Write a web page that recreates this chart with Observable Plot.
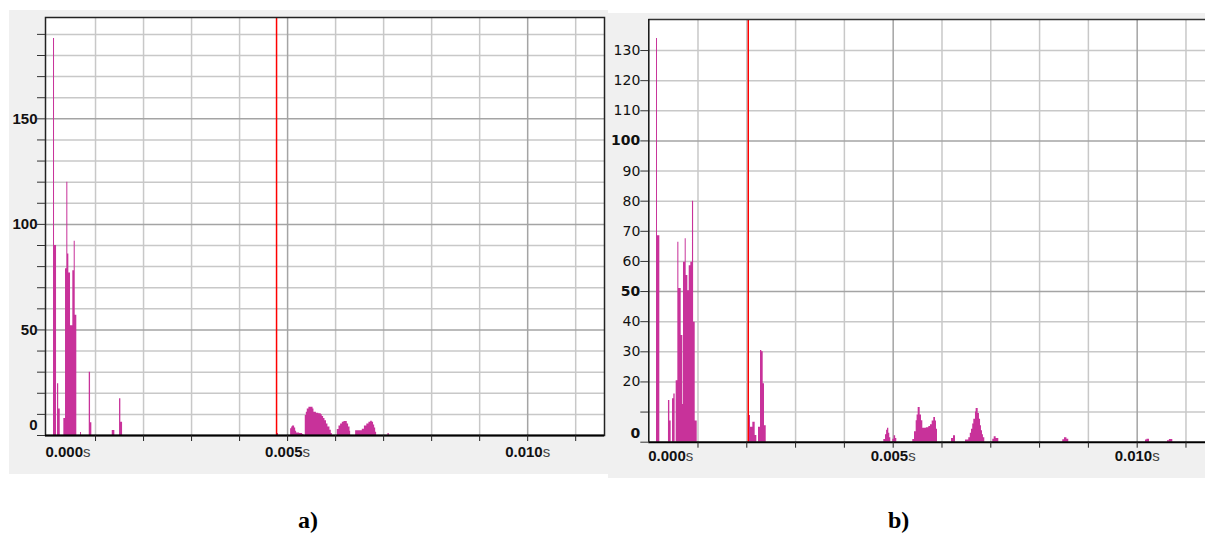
<!DOCTYPE html>
<html><head><meta charset="utf-8">
<script src="https://cdn.jsdelivr.net/npm/d3@7"></script>
<script src="https://cdn.jsdelivr.net/npm/@observablehq/plot@0.6"></script>
<style>
html,body{margin:0;padding:0;background:#fff;}
#wrap{position:relative;width:1205px;height:538px;overflow:hidden;}
#left{position:absolute;left:9px;top:10px;}
#right{position:absolute;left:608px;top:13px;}
.cap{position:absolute;top:508px;font:bold 24px "Liberation Serif","Times New Roman",serif;line-height:24px;color:#000;}
</style></head><body>
<div id="wrap"><div id="left"></div><div id="right"></div>
<div class="cap" style="left:298px">a)</div><div class="cap" style="left:888px">b)</div></div>
<script>
// ---- data (time in ms, amplitude) : step breakpoints ----
const leftTimes = [
  0.125, 0.146, 0.188, 0.208, 0.233, 0.265,
  0.340, 0.375, 0.402, 0.423, 0.444, 0.479, 0.527, 0.556, 0.577, 0.610,
  0.688, 0.708, 0.869, 0.896, 0.923,
  1.348, 1.402, 1.500, 1.527, 1.563,
  4.785, 4.810,
  5.063, 5.085, 5.104, 5.146, 5.168, 5.188, 5.250, 5.313, 5.340,
  5.368, 5.390, 5.410, 5.444, 5.500, 5.530, 5.549, 5.600, 5.650, 5.700, 5.722, 5.750, 5.778, 5.810, 5.840, 5.882, 5.910, 5.931,
  6.035, 6.070, 6.104, 6.140, 6.174, 6.243, 6.270, 6.300, 6.313,
  6.417, 6.556, 6.600, 6.650, 6.694, 6.730, 6.764, 6.790, 6.813, 6.834, 6.854,
  7.090, 7.118];
const leftValues = [
  188, 90, 0, 24.5, 12.5, 0,
  8, 79, 120, 86, 77, 52, 78, 92, 57, 0,
  1.4, 0, 30, 6, 0,
  2.4, 0, 17.4, 6.3, 0,
  1, 0,
  3.2, 4.0, 4.5, 3.5, 2.0, 1.2, 1.0, 0.5, 0,
  9.5, 11, 12.5, 13.4, 13.4, 12.5, 11, 10.5, 10.3, 9.8, 9.0, 8, 7, 5.5, 4, 2.5, 1, 0,
  2.9, 4.5, 5.5, 6.3, 6.6, 5.5, 4, 2, 0,
  2.2, 3.0, 4.5, 5.5, 6.3, 6.8, 6.3, 5.0, 3.5, 1.5, 0,
  1, 0];
const rightTimes = [
  0.150, 0.170, 0.218,
  0.395, 0.423, 0.450, 0.478, 0.505, 0.532,
  0.553, 0.587, 0.608, 0.656, 0.690, 0.703, 0.738, 0.758, 0.792, 0.820, 0.853, 0.887, 0.910, 0.943, 0.984,
  2.049, 2.076, 2.124, 2.172, 2.206, 2.240, 2.281, 2.308, 2.336, 2.363, 2.398,
  4.808, 4.842, 4.865, 4.883, 4.910, 4.930, 4.951, 4.992, 5.020, 5.050, 5.074,
  5.402, 5.437, 5.471, 5.490, 5.512, 5.553, 5.580, 5.607, 5.680, 5.730, 5.764, 5.799, 5.832, 5.867, 5.887, 5.908,
  6.195, 6.236, 6.277,
  6.482, 6.549, 6.580, 6.605, 6.630, 6.652, 6.686, 6.700, 6.742, 6.768, 6.790, 6.809, 6.830, 6.850, 6.877,
  7.041, 7.070, 7.110, 7.164,
  8.475, 8.510, 8.560, 8.598,
  10.170, 10.200, 10.252,
  10.621, 10.660, 10.730];
const rightValues = [
  134, 68.5, 0,
  13.8, 7, 0, 14.4, 16, 0,
  20.4, 66.4, 51, 35.4, 12.5, 59.7, 67.5, 55.3, 50.3, 58.6, 59.7, 80, 39.8, 7, 0,
  8.9, 5, 6.6, 2.2, 0, 5, 30.4, 30, 19.4, 5.5, 0,
  0.9, 2.5, 4, 4.6, 3, 1.5, 0, 1, 2.1, 1.2, 0,
  0.9, 3.5, 7.1, 9, 11.5, 9, 7.1, 4.6, 4.8, 5.2, 5.8, 7, 8.2, 7, 4.3, 0,
  1.2, 2.1, 0,
  0.7, 1.5, 3, 4.3, 6, 7.6, 10, 11.2, 9.5, 7.6, 5.5, 3.8, 2.5, 1.5, 0,
  1, 1.8, 1.2, 0,
  0.8, 1.5, 1.0, 0,
  0.7, 1, 0,
  0.5, 0.9, 0];
const leftCursor = 4.77;   // ms
const rightCursor = 2.03;  // ms
const xTickLabels = [0, 5, 10];           // ms
const xTicks = [1,2,3,4,5,6,7,8,9,10,11]; // ms
const xMajor = [5, 10];
const leftYLabels = [50, 100, 150];
const leftYTicks = [0,10,20,30,40,50,60,70,80,90,100,110,120,130,140,150,160,170,180,190];
const leftYMajor = [50, 100, 150];
const rightYBold = [50, 100];
const rightYRegular = [20,30,40,60,70,80,90,110,120,130];
const rightYTicks = [0,10,20,30,40,50,60,70,80,90,100,110,120,130];
const rightYMajor = [50, 100];

const MAGENTA = "#c8329a";
const FONT = "Liberation Sans, Arial, sans-serif";

function fmtX(d) { return d3.format(".3f")(d / 1000) + "s"; }

function panel(o) {
  const series = o.times.map((t, i) => ({t, v: o.values[i]}));
  const minorY = o.yTicks.filter(d => d > 0 && !o.yMajor.includes(d));
  const minorX = xTicks.filter(d => !xMajor.includes(d));
  const marks = [
    Plot.frame({fill: "white"}),
    Plot.gridX(minorX, {stroke: "#c8c8c8", strokeOpacity: 1, strokeWidth: 1.5}),
    Plot.gridY(minorY, {stroke: "#c8c8c8", strokeOpacity: 1, strokeWidth: 1.5}),
    Plot.gridX(xMajor, {stroke: "#a4a4a4", strokeOpacity: 1, strokeWidth: 1.5}),
    Plot.gridY(o.yMajor, {stroke: "#a4a4a4", strokeOpacity: 1, strokeWidth: 1.5}),
    Plot.areaY(series, {x: "t", y: "v", curve: "step-after", fill: MAGENTA}),
    Plot.ruleX([o.cursor], {stroke: "#ff0000", strokeWidth: 1.5}),
    ...o.frameMarks,
    Plot.ruleY([0], {stroke: "#000", strokeWidth: 2}),
    // x ticks & labels
    Plot.axisX(xTicks, {tickSize: 6, tickFormat: () => "", stroke: "#222", label: null}),
    Plot.axisX(xTickLabels.filter(d => d !== 0), {tickSize: 0, tickPadding: o.xPad, tickFormat: fmtX, fontSize: 15, fontFamily: FONT, fill: "#111", label: null}),
    Plot.axisX(xTickLabels.filter(d => d === 0), {tickSize: 0, tickPadding: o.xPad, tickFormat: fmtX, fontSize: 15, fontFamily: FONT, textAnchor: "start", dx: o.zeroDx, fill: "#111", label: null}),
    // y ticks
    Plot.axisY(o.yTicks, {tickSize: 8, tickFormat: () => "", stroke: "#333", label: null}),
    ...o.yLabelMarks
  ];
  return Plot.plot({
    width: o.width, height: o.height,
    marginLeft: o.mL, marginRight: o.mR, marginTop: o.mT, marginBottom: o.mB,
    style: {background: "#f0f0f0", fontFamily: FONT, overflow: "hidden"},
    x: {domain: o.xDomain, label: null},
    y: {domain: o.yDomain, label: null},
    marks
  });
}

function splitSeconds(svg) {
  const ns = "http://www.w3.org/2000/svg";
  svg.querySelectorAll('g[aria-label="x-axis tick label"] text').forEach(t => {
    const s = t.textContent;
    if (!s.endsWith("s")) return;
    t.textContent = "";
    const a = document.createElementNS(ns, "tspan");
    a.setAttribute("font-weight", "bold"); a.textContent = s.slice(0, -1);
    const b = document.createElementNS(ns, "tspan");
    b.setAttribute("font-weight", "normal"); b.setAttribute("fill", "#444"); b.textContent = "s";
    t.append(a, b);
  });
}

const leftYDomain = [0, 198];
const leftXDomain = [-0.042, 11.6];
const leftSvg = panel({
  times: leftTimes, values: leftValues, cursor: leftCursor,
  width: 599, height: 464, mL: 36, mR: 4, mT: 7, mB: 39,
  xDomain: leftXDomain, yDomain: leftYDomain,
  yTicks: leftYTicks, yMajor: leftYMajor, xPad: 11, zeroDx: -2,
  frameMarks: [Plot.frame({stroke: "#222", strokeWidth: 1.5})],
  yLabelMarks: [
    Plot.axisY(leftYLabels, {tickSize: 0, tickPadding: 8, fontSize: 15, fontWeight: "bold", fontFamily: FONT, fill: "#111", label: null}),
    Plot.axisY([0], {tickSize: 0, tickPadding: 8, fontSize: 15, fontWeight: "bold", fontFamily: FONT, dy: -10, fill: "#111", label: null})
  ]
});
document.getElementById("left").append(leftSvg);

const rightYDomain = [0, 140.3];
const rightXDomain = [-0.008, 11.4];
const rightSvg = panel({
  times: rightTimes, values: rightValues, cursor: rightCursor,
  width: 597, height: 465, mL: 40.3, mR: 0, mT: 6, mB: 36.3,
  xDomain: rightXDomain, yDomain: rightYDomain,
  yTicks: rightYTicks, yMajor: rightYMajor, xPad: 8, zeroDx: -1,
  frameMarks: [
    Plot.ruleY([rightYDomain[1]], {stroke: "#333", strokeWidth: 1.5}),
    Plot.ruleX([rightXDomain[0]], {stroke: "#111", strokeWidth: 1.5})
  ],
  yLabelMarks: [
    Plot.axisY(rightYRegular, {tickSize: 0, tickPadding: 8.5, fontSize: 14, fontFamily: "DejaVu Sans", fill: "#111", label: null}),
    Plot.axisY(rightYBold, {tickSize: 0, tickPadding: 8.5, fontSize: 14, fontWeight: "bold", fontFamily: "DejaVu Sans", fill: "#111", label: null}),
    Plot.axisY([0], {tickSize: 0, tickPadding: 8.5, fontSize: 14, fontWeight: "bold", fontFamily: "DejaVu Sans", dy: -9, fill: "#111", label: null})
  ]
});
document.getElementById("right").append(rightSvg);

splitSeconds(leftSvg);
splitSeconds(rightSvg);
</script>
</body></html>
